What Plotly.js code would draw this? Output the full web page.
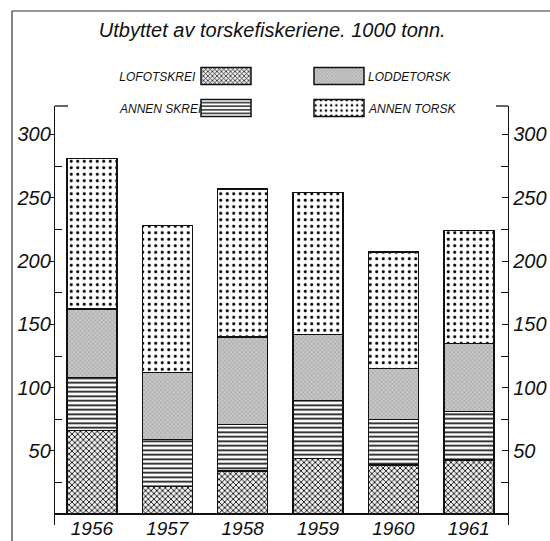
<!DOCTYPE html>
<html><head><meta charset="utf-8">
<script src="https://cdn.plot.ly/plotly-3.0.1.min.js"></script>
<style>html,body{margin:0;padding:0;background:#fff}#chart{width:550px;height:541px}</style>
</head><body><div id="chart"></div>
<script>
// Data (1000 tonn)
const years = ['1956', '1957', '1958', '1959', '1960', '1961'];
const lofotskrei = [66, 22, 34, 44, 39, 43];
const annenSkrei = [42, 37, 37, 46, 36, 38];
const loddetorsk = [54, 53, 69, 52, 40, 54];
const annenTorsk = [119, 116, 117, 112, 92, 89];
const seriesNames = ['LOFOTSKREI', 'ANNEN SKREI', 'LODDETORSK', 'ANNEN TORSK'];
const yTickVals = [50, 100, 150, 200, 250, 300];
const yTickText = ['50', '100', '150', '200', '250', '300'];
const yMinorVals = [25, 75, 125, 175, 225, 275];
const titleText = 'Utbyttet av torskefiskeriene. 1000 tonn.';

const FONT = 'Liberation Sans, Arial, sans-serif';
const line = {color: '#111', width: 1.5};
const patterns = [
  {shape: 'x', size: 4, solidity: 0.4, fgcolor: '#111', bgcolor: '#eeeeee', fillmode: 'replace'},
  {shape: '-', size: 4.5, solidity: 0.38, fgcolor: '#111', bgcolor: '#ffffff', fillmode: 'replace'},
  {shape: 'x', size: 3, solidity: 0.25, fgcolor: '#8c8c8c', bgcolor: '#c8c8c8', fillmode: 'replace'},
  {shape: '.', size: 6.5, solidity: 0.17, fgcolor: '#000', bgcolor: '#ffffff', fillmode: 'replace'}
];
const seriesVals = [lofotskrei, annenSkrei, loddetorsk, annenTorsk];

const traces = seriesVals.map((vals, i) => ({
  type: 'bar', name: seriesNames[i], x: years, y: vals,
  marker: {color: patterns[i].bgcolor, line: line, pattern: patterns[i]},
  hoverinfo: 'x+y+name'
}));
// invisible companion trace so that the mirrored right-hand axis is drawn
traces.push({type: 'scatter', mode: 'markers', x: years, y: annenTorsk, yaxis: 'y2',
  marker: {opacity: 0}, showlegend: false, hoverinfo: 'skip'});

const yMin = -8.5, yMax = 322.5;
const plotL = 55, plotR = 42, plotT = 106, plotB = 16;
const W = 550, H = 541;
const pw = W - plotL - plotR, ph = H - plotT - plotB;
function px2x(px) { return (px - plotL) / pw; }
function py2y(py) { return 1 - (py - plotT) / ph; }

function yAxis(extra) {
  return Object.assign({
    range: [yMin, yMax], tickmode: 'array', tickvals: yTickVals, ticktext: yTickText,
    showgrid: false, zeroline: false, showline: true, linecolor: '#111', linewidth: 1.3,
    tickcolor: '#111', tickwidth: 1.3, fixedrange: true,
    tickfont: {family: FONT, size: 20, style: 'italic', color: '#111'},
    minor: {tickmode: 'linear', tick0: 25, dtick: 50, ticks: 'inside', ticklen: 7, tickcolor: '#111', tickwidth: 1.2}
  }, extra);
}

const layout = {
  width: W, height: H,
  margin: {l: plotL, r: plotR, t: plotT, b: plotB, pad: 0},
  paper_bgcolor: '#fff', plot_bgcolor: '#fff',
  barmode: 'stack', bargap: 0.337,
  font: {family: FONT, color: '#111'},
  title: {text: titleText, x: 0.495, xanchor: 'center', xref: 'container',
          y: 1 - 30 / H, yanchor: 'middle', yref: 'container',
          font: {family: FONT, size: 20, style: 'italic', color: '#111'}},
  xaxis: {type: 'category', range: [-0.49, 5.52], anchor: 'free',
          position: (0 - yMin) / (yMax - yMin),
          showline: true, linecolor: '#111', linewidth: 1.5, ticks: '', showgrid: false,
          zeroline: false, fixedrange: true, ticklabelstandoff: -3,
          tickfont: {family: FONT, size: 19, style: 'italic', color: '#111'}},
  yaxis: yAxis({side: 'left', ticks: 'outside', ticklen: 4, ticklabelstandoff: -5}),
  yaxis2: yAxis({side: 'right', overlaying: 'y', anchor: 'x', ticks: 'inside', ticklen: 6}),
  showlegend: true,
  legend: {x: 0, y: 1, bgcolor: 'rgba(0,0,0,0)', borderwidth: 0, traceorder: 'normal',
           font: {family: FONT, size: 12, style: 'italic', color: '#111'}},
  shapes: [
    // outer frame (top and left edges)
    {type: 'line', xref: 'paper', yref: 'paper', x0: px2x(12), x1: px2x(552), y0: py2y(11), y1: py2y(11), line: {color: '#333', width: 1.2}},
    {type: 'line', xref: 'paper', yref: 'paper', x0: px2x(12), x1: px2x(12), y0: py2y(11), y1: py2y(545), line: {color: '#333', width: 1.2}},
    // caps at the top of the axes
    {type: 'line', xref: 'paper', yref: 'paper', x0: 0, x1: 13 / pw, y0: 1, y1: 1, line: {color: '#111', width: 1.3}},
    {type: 'line', xref: 'paper', yref: 'paper', x0: 1 - 12 / pw, x1: 1, y0: 1, y1: 1, line: {color: '#111', width: 1.3}}
  ]
};

const gd = document.getElementById('chart');

function fixLegend() {
  const targets = {
    'LOFOTSKREI': {cx: 226, cy: 76, left: true, edge: 196},
    'ANNEN SKREI': {cx: 226, cy: 108, left: true, edge: 202},
    'LODDETORSK': {cx: 339, cy: 76, left: false, edge: 368},
    'ANNEN TORSK': {cx: 339, cy: 108, left: false, edge: 368}
  };
  const lg = gd.querySelector('g.legend');
  if (!lg) return;
  lg.querySelectorAll('[clip-path]').forEach(e => e.removeAttribute('clip-path'));
  lg.querySelectorAll('g.traces').forEach(tr => {
    const txt = tr.querySelector('text.legendtext');
    if (!txt) return;
    const t = targets[txt.textContent.trim()];
    if (!t) return;
    const path = tr.querySelector('.legendpoints path');
    if (!path) return;
    const r = path.getBoundingClientRect();
    const cx = r.left + r.width / 2, cy = r.top + r.height / 2;
    const m = /translate\(\s*([-\d.e]+)[ ,]+([-\d.e]+)\s*\)/.exec(tr.getAttribute('transform') || '');
    const a = m ? parseFloat(m[1]) : 0, b = m ? parseFloat(m[2]) : 0;
    tr.setAttribute('transform', 'translate(' + (a + t.cx - cx) + ',' + (b + t.cy - cy) + ')');
    path.setAttribute('d', 'M-25,-8.5H25V8.5H-25Z');
    const tb = txt.getBoundingClientRect();
    const ox = parseFloat(txt.getAttribute('x')) || 0;
    const desiredLeft = t.left ? (t.edge - tb.width) : t.edge;
    txt.setAttribute('x', ox + desiredLeft - tb.left);
  });
}

Plotly.newPlot(gd, traces, layout, {displayModeBar: false}).then(fixLegend);
</script>
</body></html>
